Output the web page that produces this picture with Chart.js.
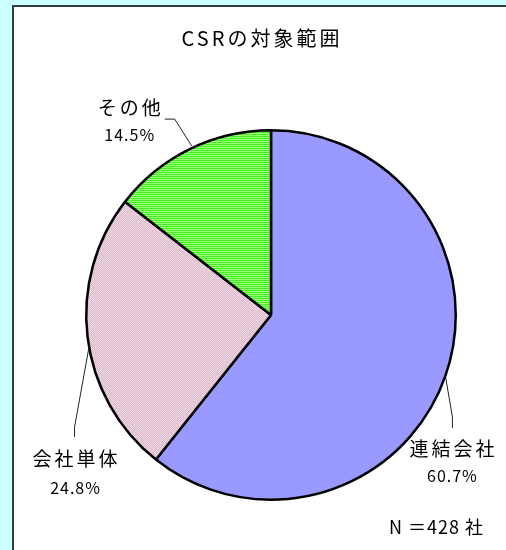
<!DOCTYPE html>
<html>
<head>
<meta charset="utf-8">
<script src="https://cdn.jsdelivr.net/npm/chart.js@4/dist/chart.umd.min.js"></script>
<style>
	html, body { margin: 0; padding: 0; background: #ccffff; width: 506px; height: 550px; overflow: hidden; }
	#panel { position: absolute; left: 12px; top: 5px; width: 500px; height: 560px; background: #fff; border-left: 2px solid #2f3f3f; border-top: 2px solid #2f3f3f; }
	#csrChart { position: absolute; left: 0; top: 0; }
</style>
</head>
<body>
<div id="panel"></div>
<canvas id="csrChart" width="506" height="550"></canvas>
<script>
const chartTitle = 'CSRの対象範囲';
const categories = ['連結会社', '会社単体', 'その他'];
const shares = [60.7, 24.8, 14.5];
const totalNote = 'N ＝428 社';

const FONT = '"Noto Sans CJK JP", "Noto Sans", sans-serif';

function makePattern(rows) {
	const c = document.createElement('canvas');
	c.width = rows[0].length;
	c.height = rows.length;
	const g = c.getContext('2d');
	rows.forEach((row, y) => row.forEach((col, x) => {
		g.fillStyle = col;
		g.fillRect(x, y, 1, 1);
	}));
	return g.createPattern(c, 'repeat');
}

const bluePattern = '#9999ff';
const pinkPattern = makePattern([
	['#ecd6e1', '#dcbccc'],
	['#dcbccc', '#ecd6e1'],
]);
const greenPattern = makePattern([
	['#44ee22'],
	['#99ff77'],
]);

// leader line + label offsets, relative to the slice's mid point on the rim
const labelLayout = [
	{ line: [[0, 0], [7, 41], [7, 52]], name: [7, 73], pct: [6, 100] },
	{ line: [[2, 7], [-13, 90], [-13, 100]], name: [-12, 122], pct: [-13, 151] },
	{ line: [[2, -3], [-15, -30], [-25, -30]], name: [-60, -41], pct: [-61, -14] },
];

const pieLabels = {
	id: 'pieLabels',
	afterDatasetsDraw(chart) {
		const ctx = chart.ctx;
		const arcs = chart.getDatasetMeta(0).data;
		ctx.save();
		// title
		ctx.fillStyle = '#000';
		ctx.textAlign = 'center';
		ctx.textBaseline = 'middle';
		ctx.font = '20px ' + FONT;
		ctx.letterSpacing = '3px';
		ctx.fillText(chartTitle, 262, 38);

		arcs.forEach((arc, i) => {
			const mid = (arc.startAngle + arc.endAngle) / 2;
			const ax = arc.x + Math.cos(mid) * arc.outerRadius;
			const ay = arc.y + Math.sin(mid) * arc.outerRadius;
			const lay = labelLayout[i];
			ctx.strokeStyle = '#222';
			ctx.lineWidth = 1;
			ctx.beginPath();
			lay.line.forEach(([dx, dy], k) => {
				if (k === 0) ctx.moveTo(ax + dx, ay + dy);
				else ctx.lineTo(ax + dx, ay + dy);
			});
			ctx.stroke();

			ctx.fillStyle = '#000';
			ctx.font = '19px ' + FONT;
			ctx.letterSpacing = '3px';
			ctx.fillText(categories[i], ax + lay.name[0] + 1, ay + lay.name[1]);
			ctx.font = '16px ' + FONT;
			ctx.letterSpacing = '1px';
			ctx.fillText(shares[i].toFixed(1) + '%', ax + lay.pct[0] + 1, ay + lay.pct[1]);
		});

		ctx.font = '18px ' + FONT;
		ctx.letterSpacing = '1px';
		ctx.textAlign = 'right';
		ctx.fillText(totalNote, 484, 527);
		ctx.restore();
	},
};

const canvas = document.getElementById('csrChart');
canvas.__chartInstance = new Chart(canvas.getContext('2d'), {
	type: 'pie',
	data: {
		labels: categories,
		datasets: [
			{
				data: shares,
				backgroundColor: [bluePattern, pinkPattern, greenPattern],
				borderColor: '#000',
				borderWidth: 2.5,
				borderAlign: 'center',
			},
		],
	},
	options: {
		responsive: false,
		animation: false,
		layout: {
			padding: { left: 85, right: 49, top: 129, bottom: 49 },
		},
		plugins: {
			legend: { display: false },
			title: { display: false },
			tooltip: { enabled: false },
		},
	},
	plugins: [pieLabels],
});
</script>
</body>
</html>
